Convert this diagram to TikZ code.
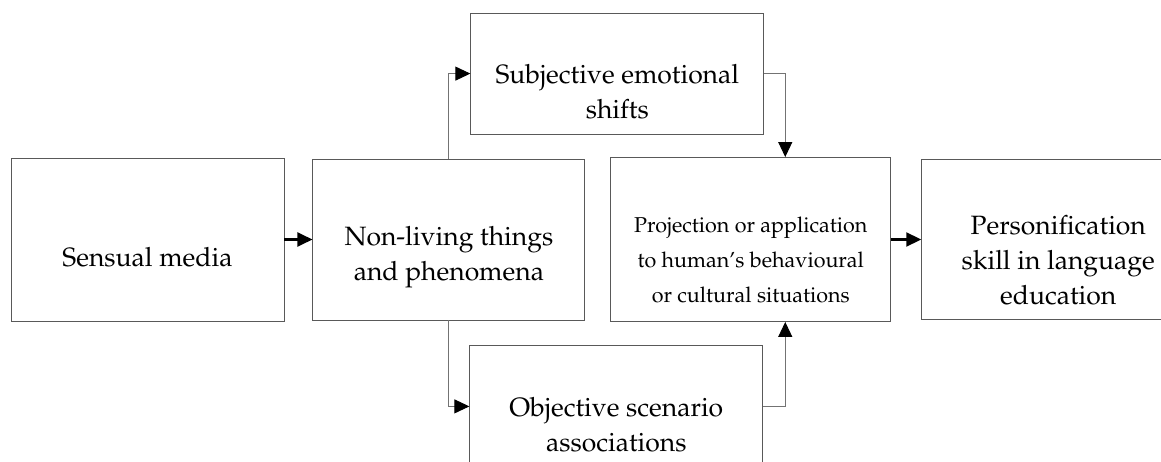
\documentclass[tikz,border=0pt]{standalone}
\usepackage[T1]{fontenc}
\usepackage{mathpazo}
\usepackage{tikz}
\usetikzlibrary{positioning}
\usetikzlibrary{arrows.meta,calc}

\tikzset{
  box/.style={draw=black!65, line width=0.9pt, inner sep=0pt},
  txt/.style={align=center, font=\fontsize{26.5}{35}\selectfont, yshift=-18pt},
  smalltxt/.style={align=center, font=\fontsize{21.5}{35}\selectfont, yshift=-20pt},
  flow/.style={draw=black, line width=2.2pt, -{Triangle[length=15pt,width=14pt]}},
  elbow/.style={draw=black!55, line width=0.9pt, -{Triangle[length=15pt,width=14pt,color=black]}}
}

\begin{document}
\begin{tikzpicture}[x=1pt, y=1pt]
    \useasboundingbox (0,0) rectangle (1161,461);
    \clip (0,0) rectangle (1161,461);
    % Nodes
    \node [box, minimum width=273pt, minimum height=163pt,
           label={[txt]center:Sensual media}] (sensual) at (147.5,221.5) {};
    \node [box, minimum width=272pt, minimum height=161pt, right=28pt of sensual,
           label={[txt]center:Non-living things\\and phenomena}] (nonliving) {};
    \node [box, minimum width=280pt, minimum height=164pt, right=25pt of nonliving,
           label={[smalltxt]center:Projection or application\\to human's behavioural\\or cultural situations}] (proj) {};
    \node [box, minimum width=273pt, minimum height=160pt, right=30pt of proj,
           label={[txt, yshift=-3pt]center:Personification\\skill in language\\education}] (pers) {};

    \node [box, minimum width=293pt, minimum height=121pt,
           above right=24pt and -115pt of nonliving.north east,
           label={[txt]center:Subjective emotional\\shifts}] (subj) {};
    \node [box, minimum width=293pt, minimum height=121pt,
           below right=25pt and -116pt of nonliving.south east,
           label={[txt]center:Objective scenario\\associations}] (obj) {};
    % Arrows
    \draw [flow] (sensual.east) -- (nonliving.west);
    \draw [flow] (proj.east) -- (proj.east -| pers.west);
    \draw [elbow] (nonliving.north) |- (subj.west);
    \draw [elbow] (nonliving.south) |- (obj.west);
    \draw [elbow] (subj.east) -- ++(21pt,0) coordinate (sj) -- (sj |- proj.north);
    \draw [elbow] (obj.east) -- ++(22pt,0) coordinate (ob) -- (ob |- proj.south);
  \end{tikzpicture}
\end{document}
